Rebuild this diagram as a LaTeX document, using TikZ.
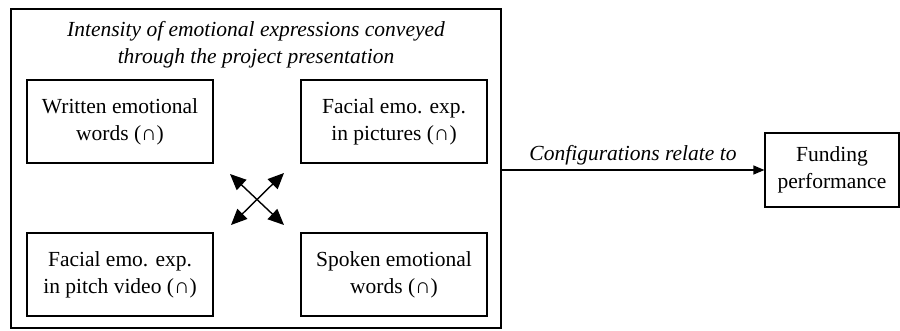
\documentclass[tikz,border=0pt]{standalone}
\usepackage{fontspec}
\setmainfont{Liberation Serif}
\usetikzlibrary{arrows.meta}

\begin{document}
\begin{tikzpicture}[x=1pt, y=-1pt]
        \tikzset{
            box/.style={draw, line width=1.2pt, minimum width=186pt, minimum height=83pt,
                align=center, inner sep=0pt},
            txt/.style={font=\fontsize{21.5}{27}\selectfont},
            dbl/.style={line width=1.4pt, {Triangle[length=16pt, width=14pt]}-{Triangle[length=16pt, width=14pt]}}
        }
        \useasboundingbox (0,0) rectangle (900,330);

        % Outer frame and its heading
        \node[draw, line width=1.2pt, minimum width=490pt, minimum height=319pt, inner sep=0pt] (frame) at (256,168.5) {};
        \node[txt, align=center] (title) at (256,45) {\itshape Intensity of emotional expressions conveyed\\\itshape through the project presentation};

        % Four expression boxes
        \node[box, txt] (written) at (120,121.5) {Written emotional\\words (∩)};
        \node[box, txt] (pictures) at (394,121.5) {Facial emo. exp.\\in pictures (∩)};
        \node[box, txt] (video) at (120,274.5) {Facial emo. exp.\\in pitch video (∩)};
        \node[box, txt] (spoken) at (394,274.5) {Spoken emotional\\words (∩)};

        % Crossed arrows
        \coordinate (nw) at (230,174);
        \coordinate (ne) at (284,173);
        \coordinate (sw) at (231,225);
        \coordinate (se) at (284,225);
        \draw[dbl] (nw) -- (se);
        \draw[dbl] (sw) -- (ne);

        % Outcome
        \node[draw, line width=1.2pt, minimum width=134pt, minimum height=74pt, txt, align=center, inner sep=0pt] (funding) at (832,170) {Funding\\performance};
        \draw[line width=1.2pt, -{Triangle[length=11pt, width=9pt]}] (frame.east |- funding.west) -- (funding.west)
            node[midway, above, txt, yshift=1pt] {\itshape Configurations relate to};
\end{tikzpicture}
\end{document}
